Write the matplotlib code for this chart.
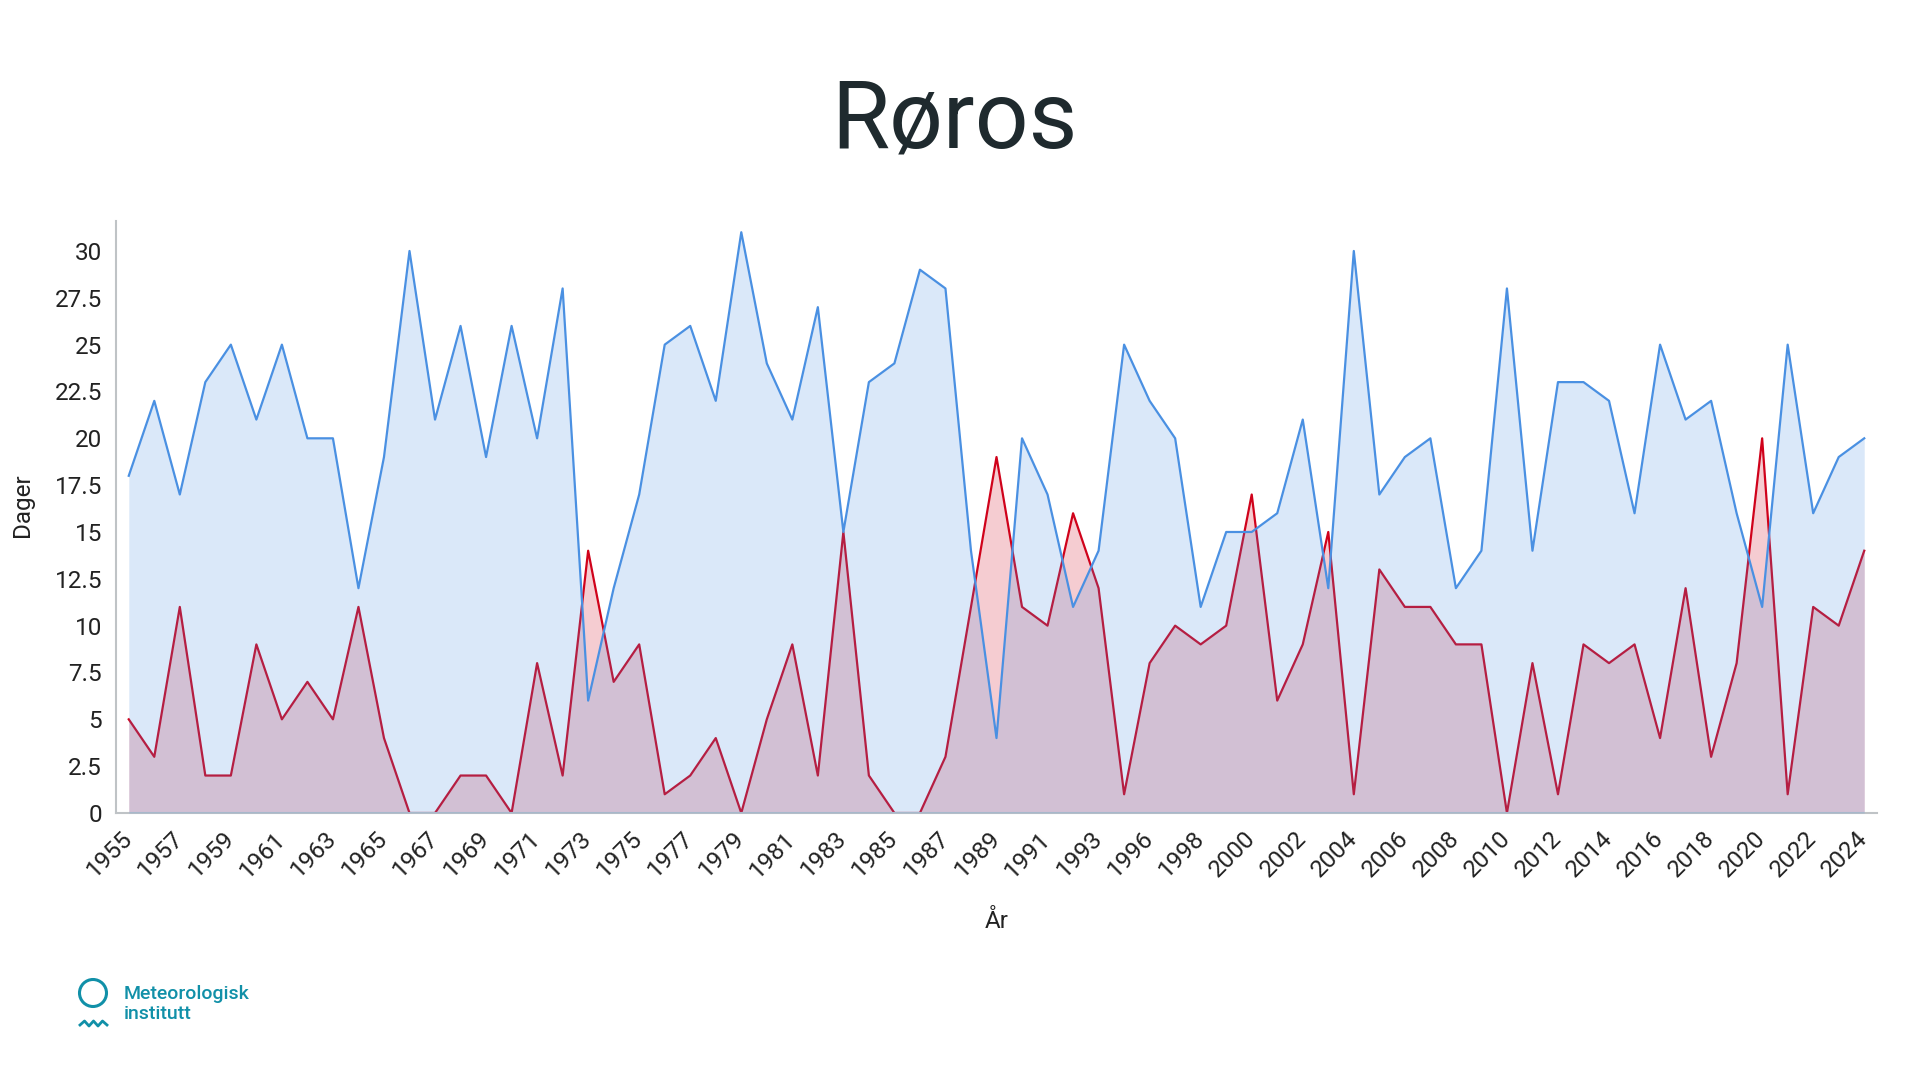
import numpy as np
import matplotlib
matplotlib.use("Agg")
import matplotlib.pyplot as plt
from matplotlib.lines import Line2D
from matplotlib.patches import Ellipse

plt.rcParams['font.family'] = ['Roboto', 'DejaVu Sans']

years = [str(y) for y in range(1955, 1994)] + ["1994"] + [str(y) for y in range(1996, 2025)]

blue_days = [18, 22, 17, 23, 25, 21, 25, 20, 20, 12,
             19, 30, 21, 26, 19, 26, 20, 28, 6, 12,
             17, 25, 26, 22, 31, 24, 21, 27, 15, 23,
             24, 29, 28, 14, 4, 20, 17, 11, 14, 25,
             22, 20, 11, 15, 15, 16, 21, 12, 30, 17,
             19, 20, 12, 14, 28, 14, 23, 23, 22, 16,
             25, 21, 22, 16, 11, 25, 16, 19, 20]

red_days = [5, 3, 11, 2, 2, 9, 5, 7, 5, 11,
            4, 0, 0, 2, 2, 0, 8, 2, 14, 7,
            9, 1, 2, 4, 0, 5, 9, 2, 15, 2,
            0, 0, 3, 11, 19, 11, 10, 16, 12, 1,
            8, 10, 9, 10, 17, 6, 9, 15, 1, 13,
            11, 11, 9, 9, 0, 8, 1, 9, 8, 9,
            4, 12, 3, 8, 20, 1, 11, 10, 14]

yticks = [0, 2.5, 5, 7.5, 10, 12.5, 15, 17.5, 20, 22.5, 25, 27.5, 30]
ytick_labels = ["0", "2.5", "5", "7.5", "10", "12.5", "15", "17.5", "20", "22.5", "25", "27.5", "30"]

blue = "#4a90e2"
red = "#d0021b"
text_col = "#222222"

fig = plt.figure(figsize=(19.2, 10.8), dpi=100)
ax = fig.add_axes([116/1920, 1 - 813/1080, (1877-116)/1920, (813-221)/1080])

x = np.arange(len(years))
ax.fill_between(x, 0, red_days, color=red, alpha=0.2, linewidth=0, zorder=1)
ax.plot(x, red_days, color=red, lw=1.6, zorder=2)
ax.fill_between(x, 0, blue_days, color=blue, alpha=0.2, linewidth=0, zorder=3)
ax.plot(x, blue_days, color=blue, lw=1.6, zorder=4)

ax.set_xlim(-0.5, len(years) - 0.5)
ax.set_ylim(0, 31.6)
ax.set_yticks(yticks)
ax.set_yticklabels(ytick_labels, fontsize=17.5, color=text_col)
ax.set_xticks(x[::2])
ax.set_xticklabels(years[::2], rotation=45, ha='right', va='center',
                   rotation_mode='anchor', fontsize=17.5, color=text_col)
ax.tick_params(axis='y', length=0, pad=10)
ax.tick_params(axis='x', length=0, pad=16)

for s in ['top', 'right']:
    ax.spines[s].set_visible(False)
for s in ['left', 'bottom']:
    ax.spines[s].set_color("#bfc3c6")
    ax.spines[s].set_linewidth(1.5)

ax.set_ylabel("Dager", fontsize=17.5, color=text_col)
ax.yaxis.set_label_coords((22 - 116) / 1761, 0.52)
ax.yaxis.label.set_va('center')
ax.yaxis.label.set_ha('center')
ax.set_xlabel("År", fontsize=17.5, color=text_col)
ax.xaxis.set_label_coords(0.5, (813 - 921) / 592)
ax.xaxis.label.set_va('center')

fig.text(0.497, 1 - 122/1080, "Røros", ha='center', va='center',
         fontsize=68, color="#1f2a2e")

# logo
teal = "#1190a8"
fig.patches.append(Ellipse((93/1920, 1 - 993/1080), 27/1920, 27/1080, transform=fig.transFigure,
                           fill=False, edgecolor=teal, lw=2.2))
wx = np.array([80, 84.5, 89, 93.5, 98, 102.5, 107]) / 1920
wy = 1 - np.array([1025, 1021, 1026, 1021, 1026, 1021, 1025]) / 1080
fig.lines.append(Line2D(wx, wy, transform=fig.transFigure, color=teal, lw=2))
fig.text(124/1920, 1 - 994/1080, "Meteorologisk", ha='left', va='center',
         fontsize=14, color=teal, fontweight='medium')
fig.text(124/1920, 1 - 1014/1080, "institutt", ha='left', va='center',
         fontsize=14, color=teal, fontweight='medium')

fig.savefig("out.png", dpi=100, facecolor="white")
